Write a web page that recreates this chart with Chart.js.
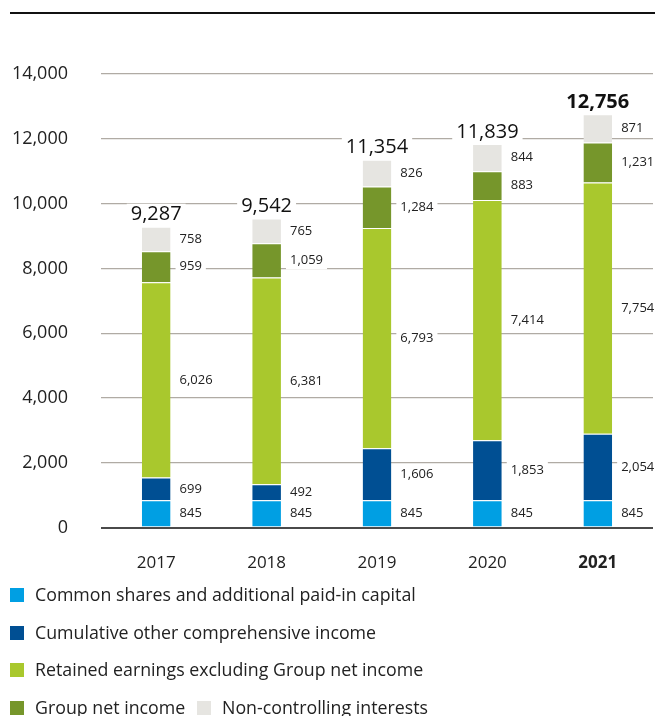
<!DOCTYPE html>
<html>
<head>
<meta charset="utf-8">
<script src="https://cdn.jsdelivr.net/npm/chart.js@4/dist/chart.umd.min.js"></script>
<style>
  body { margin: 0; background: #fff; font-family: "Open Sans", "Noto Sans", sans-serif; color: #222; }
  #wrap { position: relative; width: 655px; height: 716px; overflow: hidden; }
  #topline { position: absolute; left: 10px; right: 0; top: 12px; height: 0; border-top: 2px solid #111; }
  #box { position: absolute; left: 0; top: 0; width: 655px; height: 590px; }
  .leg { position: absolute; font-size: 17.8px; line-height: 20px; white-space: nowrap; }
  .leg span.sq { position: absolute; left: 0; top: 3px; width: 14px; height: 14px; }
  .leg span.tx { position: absolute; left: 25px; top: -1px; }
</style>
</head>
<body>
<div id="wrap">
  <div id="topline"></div>
  <div id="box"><canvas id="barChart"></canvas></div>
  <div id="legend"></div>
</div>
<script>
const years = ["2017", "2018", "2019", "2020", "2021"];
const seriesNames = [
  "Common shares and additional paid-in capital",
  "Cumulative other comprehensive income",
  "Retained earnings excluding Group net income",
  "Group net income",
  "Non-controlling interests"
];
const commonShares = [845, 845, 845, 845, 845];
const otherIncome = [699, 492, 1606, 1853, 2054];
const retainedEarnings = [6026, 6381, 6793, 7414, 7754];
const groupNetIncome = [959, 1059, 1284, 883, 1231];
const nonControlling = [758, 765, 826, 844, 871];
const totals = [9287, 9542, 11354, 11839, 12756];
const yTicks = [0, 2000, 4000, 6000, 8000, 10000, 12000, 14000];

const colors = ["#009fe3", "#004f93", "#a9c82d", "#76962b", "#e6e5e1"];
const allSeries = [commonShares, otherIncome, retainedEarnings, groupNetIncome, nonControlling];

const fmt = v => v.toLocaleString("en-US");
const FONT = "'Open Sans', 'Noto Sans', sans-serif";

// value labels beside each segment + totals above the stacks
const labelPlugin = {
  id: "labels",
  afterDatasetsDraw(chart) {
    const c = chart.ctx;
    c.save();
    c.textBaseline = "middle";
    c.font = "13px " + FONT;
    chart.data.datasets.forEach((ds, di) => {
      const meta = chart.getDatasetMeta(di);
      meta.data.forEach((bar, i) => {
        const txt = fmt(ds.data[i]);
        const x = bar.x + bar.width / 2 + 9;
        const y = (bar.y + bar.base) / 2;
        const w = c.measureText(txt).width;
        c.fillStyle = "#fff";
        c.fillRect(x - 4, y - 9, w + 8, 18);
        c.fillStyle = "#222";
        c.textAlign = "left";
        c.fillText(txt, x, y);
      });
    });
    const topMeta = chart.getDatasetMeta(chart.data.datasets.length - 1);
    topMeta.data.forEach((bar, i) => {
      const txt = fmt(totals[i]);
      c.font = (i === totals.length - 1 ? "bold " : "") + "20px " + FONT;
      const w = c.measureText(txt).width;
      const y = bar.y - 12;
      c.fillStyle = "#fff";
      c.fillRect(bar.x - w / 2 - 4, y - 11, w + 8, 22);
      c.fillStyle = "#111";
      c.textAlign = "center";
      c.fillText(txt, bar.x, y);
    });
    c.restore();
  }
};

new Chart(document.getElementById("barChart").getContext("2d"), {
  type: "bar",
  data: {
    labels: years,
    datasets: allSeries.map((d, i) => ({
      label: seriesNames[i],
      data: d,
      backgroundColor: colors[i],
      borderColor: "#fff",
      borderWidth: { top: 1, bottom: 0, left: 0, right: 0 },
      borderSkipped: false,
      categoryPercentage: 1,
      barPercentage: 0.26
    }))
  },
  options: {
    responsive: true,
    maintainAspectRatio: false,
    animation: false,
    layout: { padding: { top: 74, right: 2, left: 0, bottom: 0 } },
    plugins: { legend: { display: false }, tooltip: { enabled: false } },
    scales: {
      x: {
        stacked: true,
        grid: { display: false },
        border: { display: false },
        ticks: {
          color: "#222",
          padding: 17,
          font: ctx => ({ family: FONT, size: 17, weight: ctx.index === years.length - 1 ? "bold" : "normal" })
        }
      },
      y: {
        stacked: true,
        min: 0,
        max: 14000,
        afterBuildTicks: s => { s.ticks = yTicks.map(v => ({ value: v })); },
        afterFit: s => { s.width = 101; },
        border: { display: false },
        grid: {
          drawTicks: false,
          color: ctx => ctx.tick && ctx.tick.value === 0 ? "#4a4a4a" : "#b0aba4",
          lineWidth: ctx => ctx.tick && ctx.tick.value === 0 ? 2 : 1.2
        },
        ticks: {
          color: "#222",
          padding: 33,
          font: { family: FONT, size: 18 },
          callback: v => fmt(v)
        }
      }
    }
  },
  plugins: [labelPlugin]
});

// legend rows
const legendPos = [[10, 585], [10, 623], [10, 660], [10, 698], [197, 698]];
const legend = document.getElementById("legend");
seriesNames.forEach((name, i) => {
  const d = document.createElement("div");
  d.className = "leg";
  d.style.left = legendPos[i][0] + "px";
  d.style.top = legendPos[i][1] + "px";
  d.innerHTML = '<span class="sq" style="background:' + colors[i] + '"></span><span class="tx">' + name + "</span>";
  legend.appendChild(d);
});
</script>
</body>
</html>
